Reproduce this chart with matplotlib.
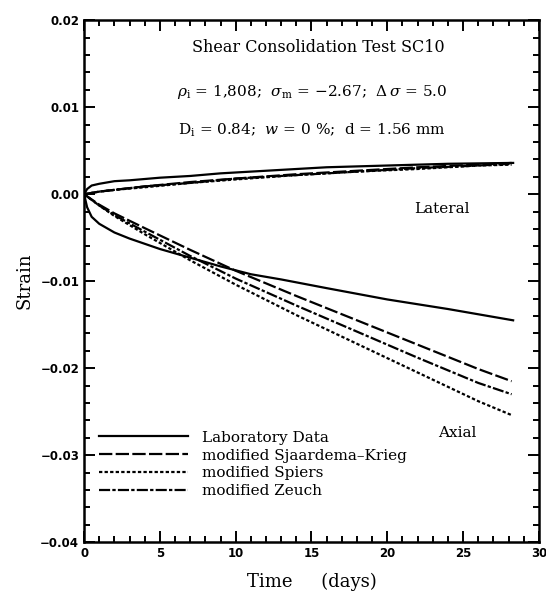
import numpy as np
import matplotlib
matplotlib.use("Agg")
import matplotlib.pyplot as plt
from matplotlib.ticker import MultipleLocator, FuncFormatter

plt.rcParams['font.family'] = ['DejaVu Serif']
plt.rcParams['mathtext.fontset'] = 'dejavuserif'

# laboratory data (solid)
lab_days = [0, 0.2, 0.5, 1, 2, 3, 5, 7, 9, 11, 13, 16, 20, 24, 28.3]
lab_lateral = [0, 0.0006, 0.0010, 0.0012, 0.0015, 0.0016, 0.0019, 0.0021,
               0.0024, 0.0026, 0.0028, 0.0031, 0.0033, 0.0035, 0.0036]
lab_axial = [0, -0.0015, -0.0026, -0.0034, -0.0044, -0.0051, -0.0063, -0.0073,
             -0.0083, -0.0092, -0.0098, -0.0108, -0.0121, -0.0132, -0.0145]

# model predictions
model_days = [0, 1, 2, 4, 7, 10, 14, 18, 22, 26, 28.2]
sk_lateral = [0, 0.0003, 0.0005, 0.0009, 0.0014, 0.0018, 0.0023, 0.0027, 0.0031, 0.0034, 0.0036]
sk_axial = [0, -0.0012, -0.0022, -0.0039, -0.0064, -0.0088, -0.0117, -0.0145, -0.0173, -0.0201, -0.0215]
spiers_lateral = [0, 0.0003, 0.0005, 0.0008, 0.0013, 0.0017, 0.0022, 0.0026, 0.0029, 0.0033, 0.0034]
spiers_axial = [0, -0.0013, -0.0025, -0.0046, -0.0076, -0.0104, -0.0139, -0.0172, -0.0205, -0.0238, -0.0254]
zeuch_lateral = [0, 0.0003, 0.0005, 0.0009, 0.0013, 0.0018, 0.0022, 0.0026, 0.0030, 0.0033, 0.0035]
zeuch_axial = [0, -0.0013, -0.0024, -0.0043, -0.0071, -0.0097, -0.0128, -0.0158, -0.0188, -0.0217, -0.0230]

fig = plt.figure(figsize=(5.46, 5.97), dpi=100)
ax = fig.add_axes([0.154, 0.092, 0.833, 0.874])

lw = 1.6
ax.plot(lab_days, lab_lateral, color='black', lw=lw, ls='-', label='Laboratory Data')
ax.plot(lab_days, lab_axial, color='black', lw=lw, ls='-')
ax.plot(model_days, sk_lateral, color='black', lw=lw, ls=(0, (6, 1.5)), label='modified Sjaardema\u2013Krieg')
ax.plot(model_days, sk_axial, color='black', lw=lw, ls=(0, (6, 1.5)))
ax.plot(model_days, spiers_lateral, color='black', lw=lw, ls=(0, (1.5, 1)), label='modified Spiers')
ax.plot(model_days, spiers_axial, color='black', lw=lw, ls=(0, (1.5, 1)))
ax.plot(model_days, zeuch_lateral, color='black', lw=lw, ls=(0, (5, 1, 1.5, 1)), label='modified Zeuch')
ax.plot(model_days, zeuch_axial, color='black', lw=lw, ls=(0, (5, 1, 1.5, 1)))

ax.set_xlim(0, 30)
ax.set_ylim(-0.04, 0.02)
ax.xaxis.set_major_locator(MultipleLocator(5))
ax.xaxis.set_minor_locator(MultipleLocator(1))
ax.yaxis.set_major_locator(MultipleLocator(0.01))
ax.yaxis.set_minor_locator(MultipleLocator(0.002))
ax.yaxis.set_major_formatter(FuncFormatter(lambda v, p: f'{v:.2f}'.replace('-', '\u2212')))
ax.tick_params(which='both', direction='in', top=True, right=True, width=1.4)
ax.tick_params(which='major', length=8)
ax.tick_params(which='minor', length=4)
for lbl in ax.get_xticklabels() + ax.get_yticklabels():
    lbl.set_family('DejaVu Sans')
    lbl.set_fontweight('bold')
    lbl.set_fontsize(8.5)
for sp in ax.spines.values():
    sp.set_linewidth(1.8)

ax.set_xlabel('Time     (days)', fontsize=13, labelpad=9)
ax.set_ylabel('Strain', fontsize=13, labelpad=5)

ax.text(0.514, 0.947, 'Shear Consolidation Test SC10', transform=ax.transAxes,
        ha='center', va='center', fontsize=11.5)
ax.text(0.502, 0.862, '$\\rho_{\\rm i}$ = 1,808;  $\\sigma_{\\rm m}$ = \u22122.67;  $\\Delta\\,\\sigma$ = 5.0',
        transform=ax.transAxes, ha='center', va='center', fontsize=11)
ax.text(0.502, 0.790, r'D$_{\rm i}$ = 0.84;  $w$ = 0 %;  d = 1.56 mm',
        transform=ax.transAxes, ha='center', va='center', fontsize=11)
ax.text(23.6, -0.0017, 'Lateral', ha='center', va='center', fontsize=11)
ax.text(24.6, -0.0274, 'Axial', ha='center', va='center', fontsize=11)

ax.legend(loc='upper left', bbox_to_anchor=(0.02, 0.225), frameon=False,
          fontsize=11, handlelength=5.8, handletextpad=0.9, labelspacing=0.25,
          borderaxespad=0)

fig.savefig('out.png', dpi=100)
